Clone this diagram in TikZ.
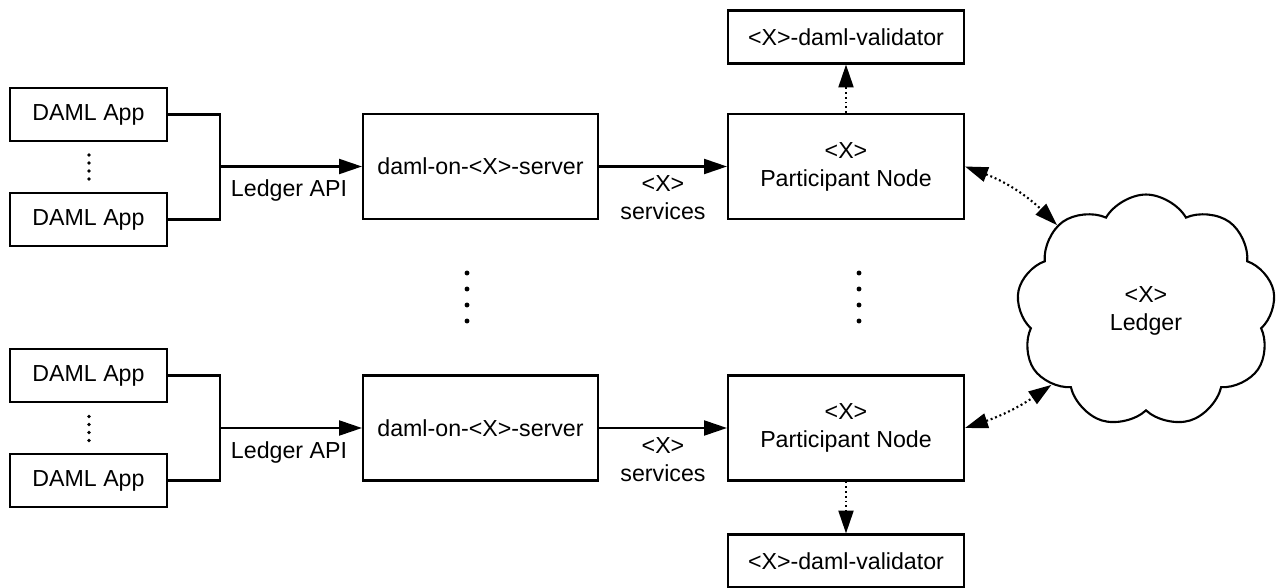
\documentclass[tikz,border=0pt]{standalone}
\usepackage{fontspec}
\setmainfont{Liberation Sans}
\usepackage{tikz}
\usetikzlibrary{arrows.meta, shapes.symbols}

\begin{document}
\begin{tikzpicture}[x=0.02cm, y=-0.02cm,
    every node/.style={font=\fontsize{13.2}{16}\selectfont},
    box/.style={draw, line width=1.2pt, inner sep=0pt, align=center},
    appbox/.style={box, minimum width=3.14cm, minimum height=1.06cm},
    srvbox/.style={box, minimum width=4.7cm, minimum height=2.1cm},
    valbox/.style={box, minimum width=4.72cm, minimum height=1.06cm},
    wire/.style={line width=1.2pt},
    flow/.style={wire, -{Triangle[length=13pt, width=8.5pt]}},
    dotflow/.style={line width=1.2pt, dash pattern=on 1.1pt off 1.6pt,
                    -{Triangle[length=13pt, width=8.5pt]}},
    dotboth/.style={dotflow, {Triangle[length=13pt, width=8.5pt]}-{Triangle[length=13pt, width=8.5pt]}}]
  \useasboundingbox (0,0) rectangle (1276,588);

  % upper chain
  \node[appbox] (app1) at (88.5,114.5) {DAML App};
  \node[appbox] (app2) at (88.5,219.5) {DAML App};
  \node[srvbox] (srv1) at (480.5,166.5) {daml-on-<X>-server};
  \node[srvbox, minimum width=4.72cm] (pn1) at (846,166.5) {<X>\\Participant Node};
  \node[valbox] (val1) at (846,37) {<X>-daml-validator};
  \coordinate (join1) at (220,166.5);
  \draw[wire] (app1.east) -| (join1);
  \draw[wire] (app2.east) -| (join1);
  \draw[flow] (join1) -- (srv1.west);
  \draw[flow] (srv1.east) -- (pn1.west);
  \draw[dotflow] (pn1.north) -- (val1.south);
  \node (api1) at (289,191) {Ledger API};
  \node[align=center] (svc1) at (663,198) {<X>\\services};

  % lower chain
  \node[appbox] (app3) at (88.5,375.5) {DAML App};
  \node[appbox] (app4) at (88.5,480.5) {DAML App};
  \node[srvbox] (srv2) at (480.5,428) {daml-on-<X>-server};
  \node[srvbox, minimum width=4.72cm] (pn2) at (846,428) {<X>\\Participant Node};
  \node[valbox] (val2) at (846,561) {<X>-daml-validator};
  \coordinate (join2) at (220,428);
  \draw[wire] (app3.east) -| (join2);
  \draw[wire] (app4.east) -| (join2);
  \draw[flow] (join2) -- (srv2.west);
  \draw[flow] (srv2.east) -- (pn2.west);
  \draw[dotflow] (pn2.south) -- (val2.north);
  \node (api2) at (289,453) {Ledger API};
  \node[align=center] (svc2) at (663,460) {<X>\\services};

  % ledger cloud
  \node[cloud, draw, line width=1.2pt, cloud puffs=9, cloud puff arc=120,
        cloud ignores aspect, minimum width=5.18cm, minimum height=4.66cm,
        align=center] (ledger) at (1146,311) {<X>\\Ledger};
  \draw[dotboth] (pn1.east) to[bend left=12] (ledger.136);
  \draw[dotboth] (pn2.east) to[bend right=8] (ledger.218);

  % ellipsis dots
  \foreach \y in {155,163,171,179}{
    \fill (89,\y) circle (1.1pt);
    \fill (89,\y+261.5) circle (1.1pt);}
  \foreach \y in {273,289,305,321}{
    \fill (467,\y) circle (1.4pt);
    \fill (859,\y) circle (1.4pt);}
\end{tikzpicture}
\end{document}
